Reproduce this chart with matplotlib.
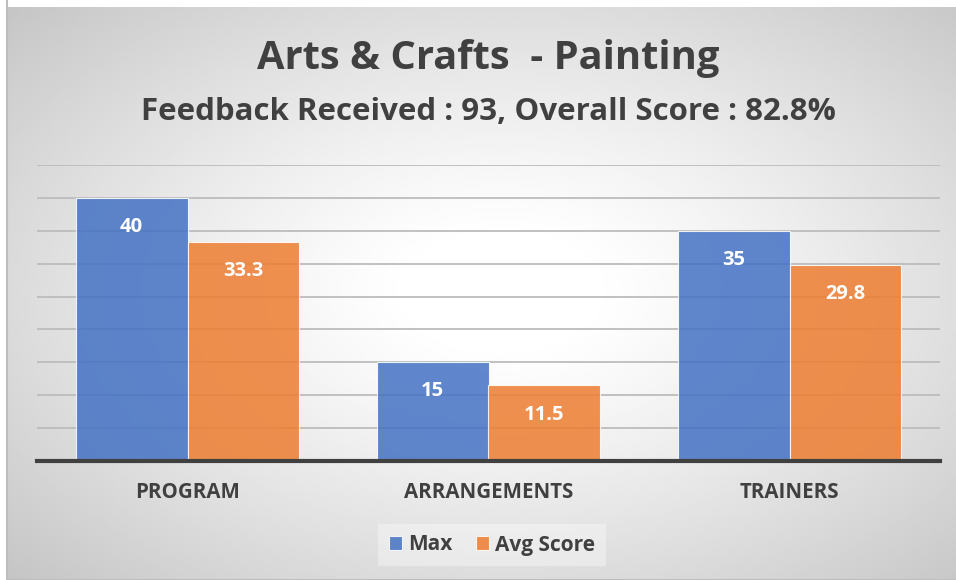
import numpy as np
import matplotlib.pyplot as plt
from matplotlib.patches import Rectangle

categories = ["PROGRAM", "ARRANGEMENTS", "TRAINERS"]
max_vals = [40, 15, 35]
avg_vals = [33.3, 11.5, 29.8]
series_names = ["Max", "Avg Score"]
title = "Arts & Crafts  - Painting"
subtitle = "Feedback Received : 93, Overall Score : 82.8%"

W, H = 956, 580
blue = "#4472C4"
orange = "#ED7D31"
txt = "#404040"
plt.rcParams['font.family'] = ['Open Sans', 'DejaVu Sans']

fig = plt.figure(figsize=(W / 100, H / 100), dpi=100)

# radial gradient panel
bg = fig.add_axes([7 / W, 0, 1 - 7 / W, 1 - 7 / H])
bg.set_axis_off()
yy, xx = np.mgrid[0:200, 0:300]
cx, cy = 300 * (500 - 7) / (W - 7), 200 * (290 - 7) / (H - 7)
r = np.sqrt(((xx - cx) / 300) ** 2 + ((yy - cy) / 200) ** 2) / 0.75
r = np.clip(r - 0.12, 0, 1) / 0.88
shade = 1 - 0.24 * r ** 1.2
bg.imshow(shade, cmap="gray", vmin=0, vmax=1, aspect="auto",
          extent=[0, 1, 1, 0], interpolation="bilinear")
bg.set_xlim(0, 1)
bg.set_ylim(1, 0)
bg.add_patch(Rectangle((0, 0), 1.2, 1.2, transform=bg.transAxes, fill=False,
                       edgecolor="#bdbdbd", lw=1.5, clip_on=False))

ax = fig.add_axes([37 / W, (H - 461) / H, (940 - 37) / W, (461 - 165) / H])
ax.patch.set_alpha(0)
x = np.arange(len(categories))
bw = 0.372
b1 = ax.bar(x - bw / 2, max_vals, bw, color=blue, alpha=0.85, edgecolor="white",
            lw=0.8, label=series_names[0], zorder=3)
b2 = ax.bar(x + bw / 2, avg_vals, bw, color=orange, alpha=0.85, edgecolor="white",
            lw=0.8, label=series_names[1], zorder=3)
for bars, vals in ((b1, max_vals), (b2, avg_vals)):
    for rect, v in zip(bars, vals):
        ax.annotate(f"{v:g}", (rect.get_x() + rect.get_width() / 2, v),
                    xytext=(0, -21), textcoords="offset points", ha="center",
                    va="center", color="white", fontsize=14.5, fontweight="bold",
                    zorder=4)

ax.set_xlim(-0.5, 2.5)
ax.set_ylim(0, 45)
ax.set_yticks(np.arange(5, 50, 5))
ax.yaxis.grid(True, color="#bcbcbc", lw=1.3, zorder=0)
ax.tick_params(axis="y", length=0, labelleft=False)
ax.tick_params(axis="x", length=0, pad=15)
ax.set_xticks(x)
ax.set_xticklabels(categories, fontsize=14.8, fontweight="bold", color=txt)
for s in ("top", "right", "left"):
    ax.spines[s].set_visible(False)
ax.spines["bottom"].set_color("#404040")
ax.spines["bottom"].set_linewidth(3)
ax.spines["bottom"].set_zorder(5)

fig.text(488 / W, 1 - 58 / H, title, ha="center", va="center", fontsize=28.7,
         fontweight="bold", color=txt)
fig.text(488 / W, 1 - 112 / H, subtitle, ha="center", va="center", fontsize=22.5,
         fontweight="bold", color=txt)

leg = fig.legend(handles=[b1, b2], loc="center", bbox_to_anchor=(492 / W, 1 - 545 / H),
                 ncol=2, frameon=True, prop={"weight": "bold", "size": 15},
                 handlelength=0.65, handleheight=0.65, columnspacing=1.1, handletextpad=0.3,
                 fancybox=False, borderpad=0.5)
leg.get_frame().set_facecolor("white")
leg.get_frame().set_alpha(0.35)
leg.get_frame().set_edgecolor("none")
for t in leg.get_texts():
    t.set_color(txt)

fig.savefig("out.png", dpi=100)
